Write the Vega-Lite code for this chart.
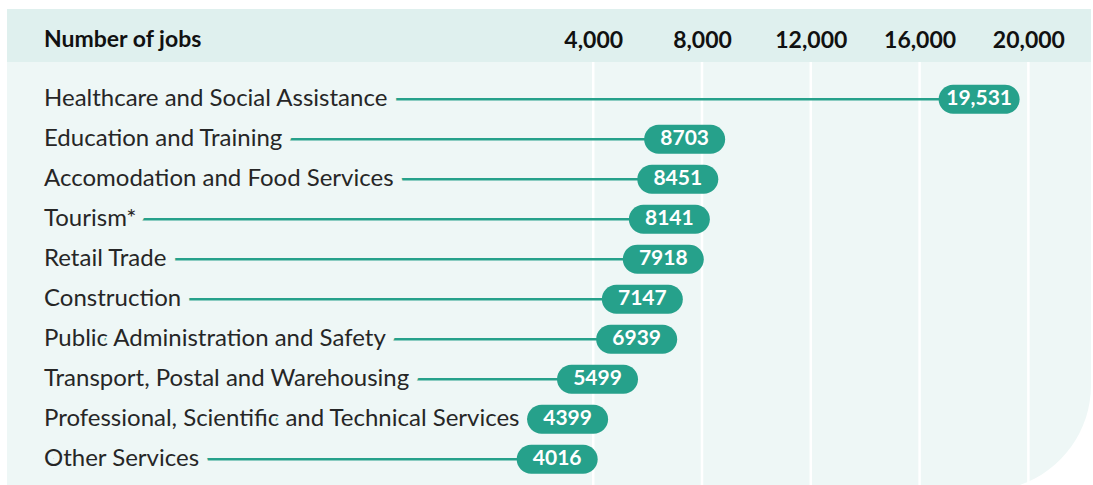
{
  "$schema": "https://vega.github.io/schema/vega-lite/v6.json",
  "autosize": {"type": "none"},
  "width": 1084,
  "height": 476,
  "padding": {"left": 7, "top": 9, "right": 2, "bottom": 0},
  "background": "#ffffff",
  "config": {"view": {"stroke": null}, "font": "Lato"},
  "datasets": {
    "jobs": [
      {"category": "Healthcare and Social Assistance", "value": 19531, "label": "19,531", "row": 1},
      {"category": "Education and Training", "value": 8703, "label": "8703", "row": 2},
      {"category": "Accomodation and Food Services", "value": 8451, "label": "8451", "row": 3},
      {"category": "Tourism*", "value": 8141, "label": "8141", "row": 4},
      {"category": "Retail Trade", "value": 7918, "label": "7918", "row": 5},
      {"category": "Construction", "value": 7147, "label": "7147", "row": 6},
      {"category": "Public Administration and Safety", "value": 6939, "label": "6939", "row": 7},
      {"category": "Transport, Postal and Warehousing", "value": 5499, "label": "5499", "row": 8},
      {"category": "Professional, Scientific and Technical Services", "value": 4399, "label": "4399", "row": 9},
      {"category": "Other Services", "value": 4016, "label": "4016", "row": 10}
    ],
    "ticks": [{"v": 4000}, {"v": 8000}, {"v": 12000}, {"v": 16000}, {"v": 20000}],
    "one": [{"title": "Number of jobs"}]
  },
  "layer": [
    {
      "data": {"name": "one"},
      "mark": {"type": "rect", "fill": "#eef7f6", "clip": true, "cornerRadiusBottomRight": 106},
      "encoding": {
        "x": {"datum": -17557, "type": "quantitative", "scale": {"domain": [-17557, 22303], "nice": false, "zero": false}},
        "x2": {"datum": 22303},
        "y": {"datum": -1.2575, "type": "quantitative", "scale": {"domain": [-1.2575, 10.6425], "reverse": true, "nice": false, "zero": false}, "axis": null},
        "y2": {"datum": 10.79}
      }
    },
    {
      "data": {"name": "ticks"},
      "mark": {"type": "rule", "stroke": "#ffffff", "strokeWidth": 2.5, "clip": true},
      "encoding": {
        "x": {"field": "v", "type": "quantitative", "scale": {"domain": [-17557, 22303], "nice": false, "zero": false},
          "axis": {"orient": "top", "values": [4000, 8000, 12000, 16000, 20000], "labelExpr": "format(datum.value, ',')", "grid": false, "ticks": false, "tickSize": 0, "domain": false, "labelPadding": -31, "labelBaseline": "middle", "labelFont": "Lato", "labelFontSize": 23, "labelFontWeight": "bold", "labelColor": "#111111", "zindex": 1, "title": null, "labelFlush": false, "labelOverlap": false}},
        "y": {"datum": 0.0675, "type": "quantitative", "scale": {"domain": [-1.2575, 10.6425], "reverse": true, "nice": false, "zero": false}, "axis": null},
        "y2": {"datum": 10.79}
      }
    },
    {
      "data": {"name": "one"},
      "mark": {"type": "rect", "fill": "#dff0ee"},
      "encoding": {
        "x": {"datum": -17557, "type": "quantitative", "scale": {"domain": [-17557, 22303], "nice": false, "zero": false}},
        "x2": {"datum": 22303},
        "y": {"datum": -1.2575, "type": "quantitative", "scale": {"domain": [-1.2575, 10.6425], "reverse": true, "nice": false, "zero": false}, "axis": null},
        "y2": {"datum": 0.0675}
      }
    },
    {
      "data": {"name": "one"},
      "mark": {"type": "text", "align": "left", "baseline": "middle", "font": "Lato", "fontSize": 23, "fontWeight": "bold", "color": "#111111"},
      "encoding": {
        "text": {"field": "title", "type": "nominal"},
        "x": {"datum": -16196, "type": "quantitative", "scale": {"domain": [-17557, 22303], "nice": false, "zero": false}},
        "y": {"datum": -0.495, "type": "quantitative", "scale": {"domain": [-1.2575, 10.6425], "reverse": true, "nice": false, "zero": false}, "axis": null}
      }
    },
    {
      "data": {"name": "jobs"},
      "mark": {"type": "rule", "stroke": "#26a18b", "strokeWidth": 2.5},
      "encoding": {
        "x": {"field": "value", "type": "quantitative", "scale": {"domain": [-17557, 22303], "nice": false, "zero": false}},
        "x2": {"datum": -16196},
        "y": {"field": "row", "type": "quantitative", "scale": {"domain": [-1.2575, 10.6425], "reverse": true, "nice": false, "zero": false}, "axis": null}
      }
    },
    {
      "data": {"name": "jobs"},
      "mark": {"type": "text", "align": "left", "baseline": "middle", "font": "Lato", "fontSize": 24, "fill": "#eef7f6", "stroke": "#eef7f6", "strokeWidth": 19, "strokeJoin": "round"},
      "encoding": {
        "text": {"field": "category", "type": "nominal"},
        "x": {"datum": -16196, "type": "quantitative", "scale": {"domain": [-17557, 22303], "nice": false, "zero": false}},
        "y": {"field": "row", "type": "quantitative", "scale": {"domain": [-1.2575, 10.6425], "reverse": true, "nice": false, "zero": false}, "axis": null}
      }
    },
    {
      "data": {"name": "jobs"},
      "mark": {"type": "text", "align": "left", "baseline": "middle", "font": "Lato", "fontSize": 24, "color": "#262626"},
      "encoding": {
        "text": {"field": "category", "type": "nominal"},
        "x": {"datum": -16196, "type": "quantitative", "scale": {"domain": [-17557, 22303], "nice": false, "zero": false}},
        "y": {"field": "row", "type": "quantitative", "scale": {"domain": [-1.2575, 10.6425], "reverse": true, "nice": false, "zero": false}, "axis": null}
      }
    },
    {
      "data": {"name": "jobs"},
      "mark": {"type": "rect", "fill": "#26a18b", "cornerRadius": 14.5, "xOffset": -77, "x2Offset": 4, "yOffset": -14.5, "y2Offset": 14.5},
      "encoding": {
        "x": {"field": "value", "type": "quantitative", "scale": {"domain": [-17557, 22303], "nice": false, "zero": false}},
        "x2": {"field": "value"},
        "y": {"field": "row", "type": "quantitative", "scale": {"domain": [-1.2575, 10.6425], "reverse": true, "nice": false, "zero": false}, "axis": null},
        "y2": {"field": "row"}
      }
    },
    {
      "data": {"name": "jobs"},
      "mark": {"type": "text", "align": "center", "baseline": "middle", "font": "Lato", "fontSize": 21, "fontWeight": "bold", "color": "#ffffff", "xOffset": -36.5},
      "encoding": {
        "text": {"field": "label", "type": "nominal"},
        "x": {"field": "value", "type": "quantitative", "scale": {"domain": [-17557, 22303], "nice": false, "zero": false}},
        "y": {"field": "row", "type": "quantitative", "scale": {"domain": [-1.2575, 10.6425], "reverse": true, "nice": false, "zero": false}, "axis": null}
      }
    }
  ]
}
